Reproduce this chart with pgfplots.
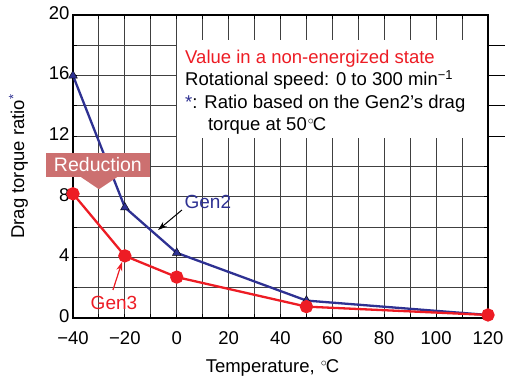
\documentclass[border=0pt]{standalone}
\usepackage{pgfplots}
\pgfplotsset{compat=1.18}
\usepackage{fontspec}
\setmainfont{Liberation Sans}
\usetikzlibrary{arrows.meta}
\definecolor{navy}{RGB}{46,49,146}
\definecolor{gred}{RGB}{237,28,36}
\definecolor{redbox}{RGB}{204,112,112}
\begin{document}
\begin{tikzpicture}[font=\fontsize{18bp}{21bp}\selectfont]
\begin{axis}[
  scale only axis, width=415bp, height=303bp,
  clip=false,
  xmin=-40, xmax=120, ymin=0, ymax=20,
  xtick={-40,-20,...,120},
  xticklabels={−40,−20,0,20,40,60,80,100,120},
  ytick={0,4,...,20},
  minor x tick num=1, minor y tick num=1,
  grid=both,
  major grid style={draw=black!75, line width=0.9bp},
  minor grid style={draw=black!75, line width=0.9bp},
  axis line style={line width=1.2bp},
  tick style={black, line width=0.9bp},
  major tick length=4bp, minor tick length=4bp,
  tick label style={font=\fontsize{18.5bp}{21bp}\selectfont},
  xticklabel style={yshift=-10bp},
  yticklabel style={yshift=2bp},
  /pgf/number format/assume math mode=true,
  xlabel={Temperature, \kern1bp$^{\circ}$\kern-1.5bp C},
  ylabel={Drag torque ratio\textsuperscript{\textcolor{navy}{*}}},
  label style={font=\fontsize{18.5bp}{21bp}\selectfont},
  xlabel shift=8bp, ylabel shift=14bp,
  xlabel style={xshift=-8bp},
]
\coordinate (sw) at (rel axis cs:0,0);
\coordinate (ne) at (rel axis cs:1,1);
\fill[white] (axis cs:0.1,18.35) rectangle (axis cs:119.5,11.9);
\draw[line width=1.2bp] (rel axis cs:1,0) -- (rel axis cs:1,1);
\draw[line width=0.9bp] (axis cs:120,12) -- ++(-4bp,0);
\draw[line width=0.9bp] (axis cs:120,14) -- ++(-4bp,0);
\draw[line width=0.9bp] (axis cs:120,16) -- ++(-4bp,0);
\draw[line width=0.9bp] (axis cs:120,18) -- ++(-4bp,0);
\addplot[navy, line width=2.3bp, mark=triangle*, mark size=5bp, mark options={fill=navy, draw=black, line width=0.4bp}] coordinates {(-40,16) (-20,7.3) (0,4.3) (50,1.15) (120,0.2)};
\addplot[gred, line width=2.3bp, mark=*, mark size=5.5bp, mark options={fill=gred}] coordinates {(-40,8.2) (-20,4.1) (0,2.7) (50,0.75) (120,0.2)};
\node[text=navy, font=\fontsize{19bp}{21bp}\selectfont] at (axis cs:12,7.66) {Gen2};
\draw[-{Stealth[length=9bp,width=6bp]}, line width=1bp] (axis cs:2,7.13) -- (axis cs:-7.2,5.81);
\node[text=gred, font=\fontsize{19bp}{21bp}\selectfont] at (axis cs:-24.2,0.99) {Gen3};
\draw[gred, -{Stealth[length=9bp,width=6bp]}, line width=1.2bp] (axis cs:-24.6,1.85) -- (axis cs:-21.1,3.7);
\fill[redbox] (axis cs:-50.4,10.9) rectangle (axis cs:-10.3,9.3);
\fill[redbox] (axis cs:-36.9,9.3) -- (axis cs:-23.0,9.3) -- (axis cs:-30,8.5) -- cycle;
\node[text=white, font=\fontsize{19.5bp}{21bp}\selectfont] at (axis cs:-30.4,10.1) {Reduction};
\begin{scope}[font=\fontsize{18.5bp}{21bp}\selectfont]
\node[anchor=base west, text=gred, inner sep=0pt] at (axis cs:3.2,16.81) {Value in a non-energized state};
\node[anchor=base west, inner sep=0pt] at (axis cs:3.2,15.33) {Rotational speed: 0 to 300 min\textsuperscript{−1}};
\node[anchor=base west, inner sep=0pt] at (axis cs:3.2,13.85) {\textcolor{navy}{*}: Ratio based on the Gen2’s drag};
\node[anchor=base west, inner sep=0pt] at (axis cs:12.0,12.37) {torque at 50\kern1bp$^{\circ}$\kern-1.5bp C};
\end{scope}
\end{axis}
\pgfresetboundingbox
\path ([shift={(-73bp,-58bp)}]sw) rectangle ([shift={(17bp,15bp)}]ne);
\end{tikzpicture}
\end{document}
